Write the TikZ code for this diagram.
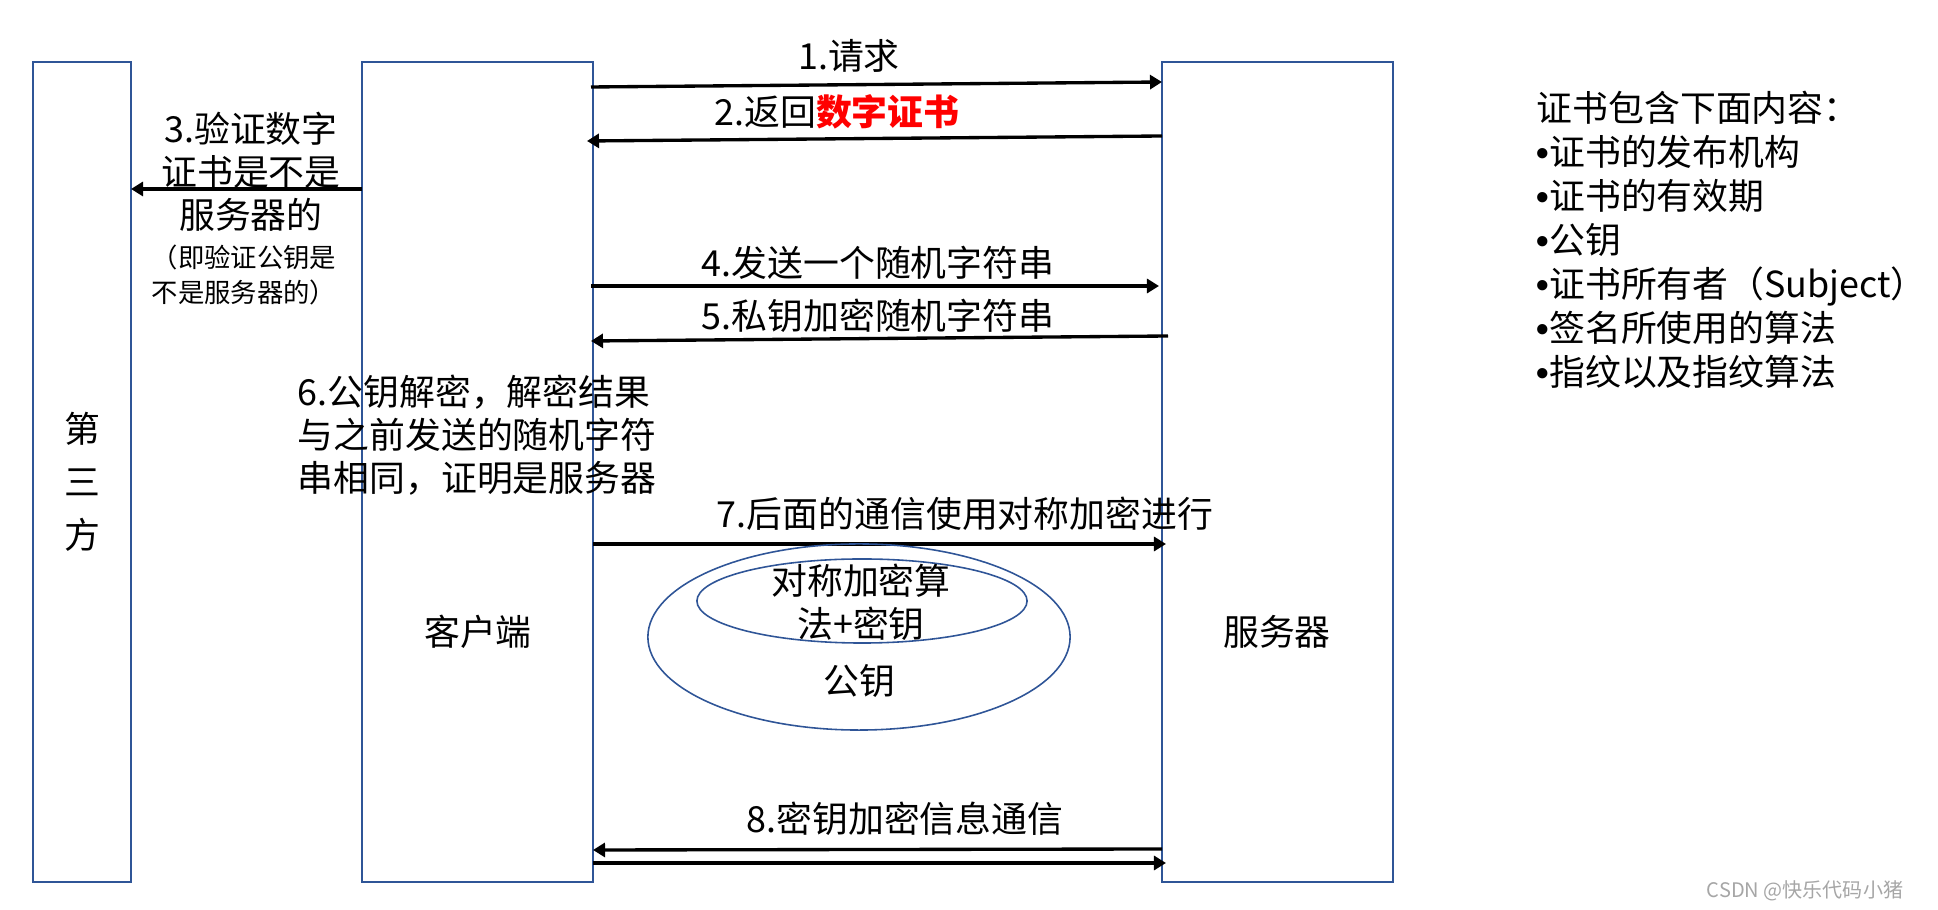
\documentclass[tikz,border=0pt]{standalone}
\usepackage{fontspec}
\setmainfont{Noto Sans CJK SC}
\newfontfamily\bulletfont{Liberation Sans}
\usepackage{xcolor}
\usetikzlibrary{arrows.meta, positioning, shapes.geometric}
\definecolor{boxblue}{HTML}{2F5597}
\definecolor{markgray}{HTML}{A6A6A6}
\newcommand{\bul}{{\bulletfont\bfseries •}}
\tikzset{
  party/.style={draw=boxblue, line width=0.45pt, inner sep=0pt, minimum height=8.2cm},
  keyshape/.style={draw=boxblue, ellipse, line width=0.45pt, inner sep=0pt},
  msg/.style={-{Triangle[length=1.2mm, width=1.4mm]}, line width=0.95pt},
  smallnote/.style={font=\fontsize{7.5}{10}\selectfont},
  certnote/.style={align=left, anchor=west, font=\fontsize{10.2}{12.5}\selectfont},
  watermark/.style={text=markgray, font=\fontsize{5.7}{7}\selectfont},
  every node/.style={inner sep=0pt, font=\fontsize{10.2}{12.2}\selectfont}
}

\begin{document}
\begin{tikzpicture}[x=0.01cm, y=-0.01cm]
    \useasboundingbox (0,0) rectangle (1938,910);

    \node[party, minimum width=0.98cm] (third) at (82,472) {};
    \node[party, minimum width=2.31cm] (client) at (477.5,472) {};
    \node[party, minimum width=2.31cm] (server) at (1277.5,472) {};
    \node[align=center, font=\fontsize{10.2}{15}\selectfont] (thirdname) at (82,482) {第\\三\\方};
    \node (clientname) at (478,632) {客户端};
    \node (servername) at (1277,632) {服务器};

    \coordinate (m1a) at (591,87);   \coordinate (m1b) at (1162,82);
    \coordinate (m2a) at (1162,136); \coordinate (m2b) at (587,141);
    \coordinate (m3a) at (362,189);  \coordinate (m3b) at (131,189);
    \coordinate (m4a) at (591,286);  \coordinate (m4b) at (1159,286);
    \coordinate (m5a) at (1168,336); \coordinate (m5b) at (591,341);
    \coordinate (m7a) at (593,544);  \coordinate (m7b) at (1166,544);
    \coordinate (m8a) at (1162,849); \coordinate (m8b) at (593,850);
    \coordinate (m9a) at (593,863);  \coordinate (m9b) at (1166,863);

    \draw[msg] (m1a) -- (m1b);
    \draw[msg] (m2a) -- (m2b);
    \draw[msg] (m3a) -- (m3b);
    \draw[msg] (m4a) -- (m4b);
    \draw[msg] (m5a) -- (m5b);
    \draw[msg] (m7a) -- (m7b);
    \draw[msg] (m8a) -- (m8b);
    \draw[msg] (m9a) -- (m9b);

    \node (request) at (849,56) {1.请求};
    \node (reply) at (837,112) {2.返回\textcolor{red}{\bfseries 数字证书}};
    \node[align=center] (verify) at (251,172) {3.验证数字\\证书是不是\\服务器的};
    \node[smallnote, align=left, anchor=west] (verifynote) at (151,275) {（即验证公钥是\\不是服务器的）};
    \node (random) at (878,263) {4.发送一个随机字符串};
    \node (signed) at (878,316) {5.私钥加密随机字符串};
    \node[align=left, anchor=west] (check) at (297,435) {6.公钥解密，解密结果\\与之前发送的随机字符\\串相同，证明是服务器};
    \node (later) at (965,514) {7.后面的通信使用对称加密进行};

    \node[keyshape, minimum width=4.22cm, minimum height=1.86cm] (pubkey) at (859,637) {};
    \node[keyshape, minimum width=3.30cm, minimum height=0.84cm] (symkey) at (862,601) {};
    \node[align=center] (symtext) at (861,602) {对称加密算\\法+密钥};
    \node (pubtext) at (859,681) {公钥};

    \node (traffic) at (905,819) {8.密钥加密信息通信};

    \node[certnote] (certinfo) at (1536,240) {证书包含下面内容：\\\bul 证书的发布机构\\\bul 证书的有效期\\\bul 公钥\\\bul 证书所有者（Subject）\\\bul 签名所使用的算法\\\bul 指纹以及指纹算法};
    \node[watermark] (mark) at (1805,891) {CSDN @快乐代码小猪};
\end{tikzpicture}
\end{document}
